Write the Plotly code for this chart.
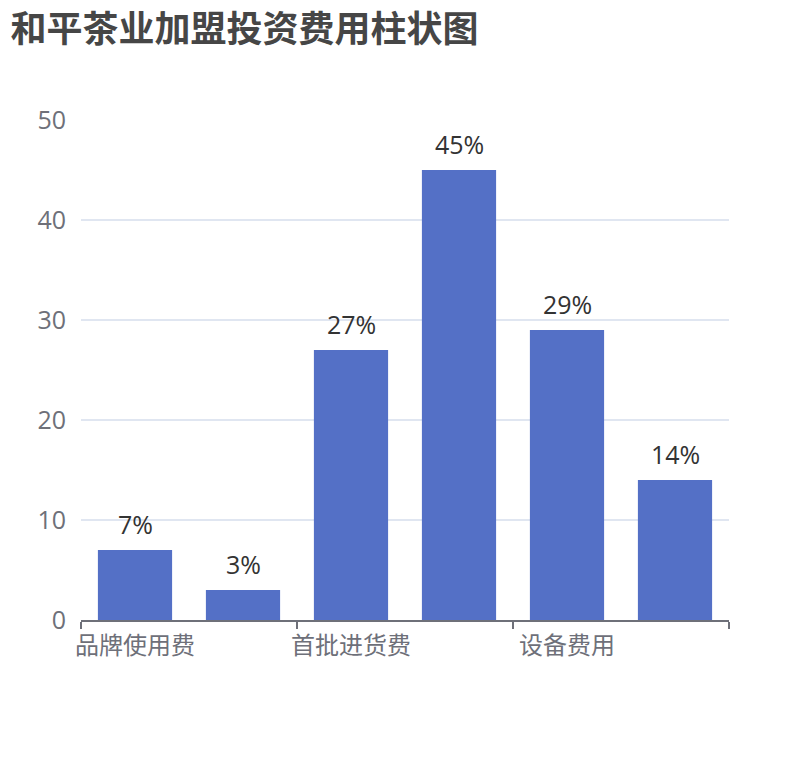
import plotly.graph_objects as go

# 数据
categories = ["品牌使用费", "首批进货费", "设备费用"]
series_a = [7, 27, 29]
series_b = [3, 45, 14]
y_ticks = [0, 10, 20, 30, 40, 50]

BAR_COLOR = "#5470C6"
FONT = "Open Sans, Noto Sans CJK SC"
CJK = "Noto Sans CJK SC"

fig = go.Figure()
for vals in (series_a, series_b):
    fig.add_trace(go.Bar(
        x=categories,
        y=vals,
        marker=dict(color=BAR_COLOR, line=dict(width=0)),
        showlegend=False,
        hoverinfo="x+y",
    ))

# 数值标签（两组柱子中心分别位于类目 ±0.25）
for offset, vals in ((-0.25, series_a), (0.25, series_b)):
    for i, v in enumerate(vals):
        fig.add_annotation(
            x=i + offset, y=v, xref="x", yref="y",
            text=f"{v}%", showarrow=False,
            xanchor="center", yanchor="bottom", yshift=7,
            font=dict(family=FONT, size=25, color="#333333"),
        )

# 类目标签居中于每组第一根柱子
for i, cat in enumerate(categories):
    fig.add_annotation(
        x=i - 0.25, y=0, xref="x", yref="y",
        text=cat, showarrow=False,
        xanchor="center", yanchor="top", yshift=-4,
        font=dict(family=CJK, size=24, color="#6E7079"),
    )

# 页面 body 默认有 8px 边距，这里整体补偿
fig.update_layout(
    title=dict(
        text="<b>和平茶业加盟投资费用柱状图</b>",
        x=0.003, xanchor="left", y=0.972, yanchor="middle",
        font=dict(family=CJK, size=36, color="#464646"),
    ),
    width=802,
    height=752,
    margin=dict(l=73, r=81, t=112, b=140),
    paper_bgcolor="white",
    plot_bgcolor="white",
    barmode="group",
    bargap=0.0,
    bargroupgap=0.313,
    font=dict(family=FONT),
    xaxis=dict(
        type="category",
        range=[-0.5, len(categories) - 0.5],
        automargin=False,
        showticklabels=False,
        showline=True,
        linecolor="#6E7079",
        linewidth=1.5,
        ticks="outside",
        tickson="boundaries",
        ticklen=7,
        tickcolor="#6E7079",
        tickwidth=1.5,
        showgrid=False,
    ),
    yaxis=dict(
        range=[0, 50],
        tickvals=y_ticks,
        automargin=False,
        showgrid=True,
        gridcolor="#E0E6F1",
        gridwidth=1.5,
        zeroline=False,
        showline=False,
        ticks="",
        ticklabelstandoff=14,
        tickfont=dict(family=FONT, size=25, color="#6E7079"),
    ),
)

fig.write_html("out.html")
